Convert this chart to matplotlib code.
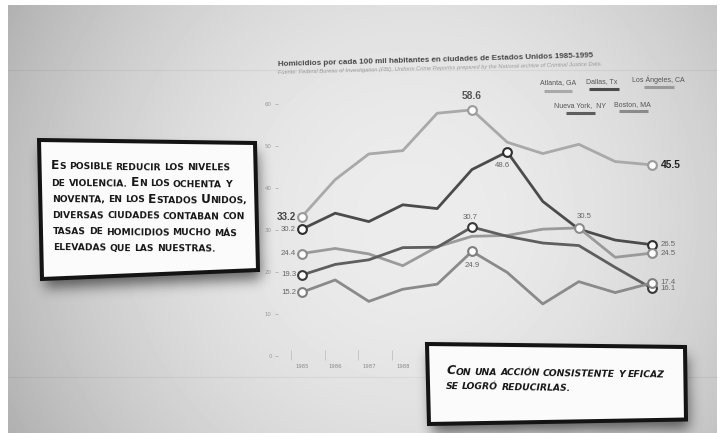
import numpy as np
import matplotlib
matplotlib.use('Agg')
import matplotlib.pyplot as plt
from matplotlib import font_manager as fm
from matplotlib.path import Path
from matplotlib.patches import Polygon

# homicidios por cada 100 mil habitantes
years = list(range(1985, 1996))
atlanta = [33.2, 42.0, 48.1, 48.9, 57.8, 58.6, 50.9, 48.2, 50.4, 46.3, 45.5]
dallas = [30.2, 34.0, 32.0, 36.0, 35.1, 44.4, 48.6, 36.8, 30.2, 27.6, 26.5]
los_angeles = [24.4, 25.6, 24.3, 21.5, 26.0, 28.5, 28.7, 30.2, 30.5, 23.5, 24.5]
nueva_york = [19.3, 21.8, 22.9, 25.8, 25.9, 30.7, 28.5, 26.9, 26.3, 21.1, 16.1]
boston = [15.2, 18.1, 13.0, 15.9, 17.1, 24.9, 19.9, 12.4, 17.7, 15.1, 17.4]

cities = ['Atlanta, GA', 'Dallas, Tx', 'Los Ángeles, CA', 'Nueva York,  NY', 'Boston, MA']
series = [atlanta, dallas, los_angeles, nueva_york, boston]
marked = [[0, 5, 10], [0, 6, 10], [0, 8, 10], [0, 5, 10], [0, 5, 10]]
yticks = [0, 10, 20, 30, 40, 50, 60]

title = 'Homicidios por cada 100 mil habitantes en ciudades de Estados Unidos 1985-1995'
source = ('Fuente: Federal Bureau of Investigation (FBI), Uniform Crime Reportss prepared '
          'by the National archive of Criminal Justice Data.')
box1_lines = ['Es posible reducir los niveles', 'de violencia. En los ochenta y',
              'noventa, en los Estados Unidos,', 'diversas ciudades contaban con',
              'tasas de homicidios mucho más', 'elevadas que las nuestras.']
box2_lines = ['Con una acción consistente y eficaz', 'se logró reducirlas.']

line_col = ['#a9a9a9', '#4b4b4b', '#9a9a9a', '#5e5e5e', '#8a8a8a']
edge_col = ['#9a9a9a', '#2e2e2e', '#8c8c8c', '#3a3a3a', '#7e7e7e']

names = {f.name for f in fm.fontManager.ttflist}
NARROW = 'Liberation Sans Narrow' if 'Liberation Sans Narrow' in names else 'Liberation Sans'

W, H = 723, 433
fig = plt.figure(figsize=(W / 100, H / 100), dpi=100, facecolor='white')

# photo background with vignette
ax_bg = fig.add_axes([0, 0, 1, 1])
gx, gy = np.meshgrid(np.arange(8, 717) + 0.5, np.arange(5, 433) + 0.5)
r2 = ((gx - 410) / 400) ** 2 + ((gy - 215) / 400) ** 2
bg = np.clip(0.925 - 0.18 * r2, 0, 1)
ax_bg.imshow(bg, cmap='gray', vmin=0, vmax=1, extent=(8, 717, 433, 5),
             interpolation='bilinear', aspect='auto')
for yy in (70, 377):
    ax_bg.plot([8, 717], [yy, yy], color='black', alpha=0.05, lw=0.8)
ax_bg.set_xlim(0, W)
ax_bg.set_ylim(H, 0)
ax_bg.axis('off')


# chart: slight perspective along x
def fwd(x):
    t = np.asarray(x, dtype=float) - 1985
    return 33 * t + 0.2 * t ** 2


def inv(u):
    u = np.asarray(u, dtype=float)
    return 1985 + (-33 + np.sqrt(np.clip(1089 + 0.8 * u, 0, None))) / 0.4


px_l, px_r, px_b, px_t = 278, 700, 380, 90
ax = fig.add_axes([px_l / W, (H - px_b) / H, (px_r - px_l) / W, (px_b - px_t) / H])
ax.set_facecolor('none')
ax.set_xscale('function', functions=(fwd, inv))
ax.set_xlim(float(inv(px_l - 302)), float(inv(px_r - 302)))
ax.set_ylim((356 - px_b) / 4.2, (356 - px_t) / 4.2)
for s in ax.spines.values():
    s.set_visible(False)
ax.spines['bottom'].set_position(('data', -1.0))

for vals, lc, ec, idx in zip(series, line_col, edge_col, marked):
    ax.plot(years, vals, color=lc, lw=2.0, solid_joinstyle='round', zorder=2)
    ax.plot([years[i] for i in idx], [vals[i] for i in idx], 'o', ms=6.3,
            mfc='white', mec=ec, mew=1.5, zorder=3)

P = 0.72  # points per pixel


def lab(vals, i, dx, dy, ha='center', size=5.6, color='#666666', weight='normal'):
    ax.annotate(f'{vals[i]:.1f}', (years[i], vals[i]), xytext=(dx * P, -dy * P),
                textcoords='offset points', ha=ha, va='center', fontsize=size,
                color=color, weight=weight, family=NARROW, zorder=4)


lab(atlanta, 0, -6, 0, 'right', 7.0, '#444444', 'bold')
lab(atlanta, 5, 0, -14, 'center', 7.4, '#555555', 'bold')
lab(atlanta, 10, 8.5, 0, 'left', 7.4, '#222222', 'bold')
lab(dallas, 0, -6, 0, 'right')
lab(dallas, 6, -4.5, 14, 'center')
lab(dallas, 10, 8.5, 0, 'left')
lab(los_angeles, 0, -6, 0, 'right')
lab(los_angeles, 8, 5, -11, 'center')
lab(los_angeles, 10, 8.5, 0, 'left')
lab(nueva_york, 0, -6, 0, 'right')
lab(nueva_york, 5, -1.5, -9.5, 'center')
lab(nueva_york, 10, 8.5, 0, 'left')
lab(boston, 0, -6, 0, 'right')
lab(boston, 5, 0, 14, 'center')
lab(boston, 10, 8.5, 0, 'left')

ax.set_yticks(yticks)
ax.set_xticks(years)
ax.set_xticks([y - 0.32 for y in years], minor=True)
ax.tick_params(axis='y', direction='out', length=2.5, width=0.6, color='#b0b0b0',
               labelsize=3.9, labelcolor='#9a9a9a', pad=2)
ax.tick_params(axis='x', which='major', length=0, labelsize=3.9,
               labelcolor='#8a8a8a', pad=3)
ax.tick_params(axis='x', which='minor', direction='in', length=7, width=0.6,
               color='#c0c0c0')
# year labels after 1988 sit behind the lower note
for yr, tl in zip(years, ax.get_xticklabels()):
    tl.set_visible(yr <= 1988)

# overlay: titles, legend, boxes
ov = fig.add_axes([0, 0, 1, 1])
ov.set_facecolor('none')
ov.set_xlim(0, W)
ov.set_ylim(H, 0)
ov.axis('off')

ov.text(278, 66, title, rotation=1.6, rotation_mode='anchor', ha='left', va='baseline',
        fontsize=5.75, weight='bold', color='#474747', family=NARROW)
ov.text(278, 74, source, rotation=1.5, rotation_mode='anchor', ha='left', va='baseline',
        fontsize=4.05, style='italic', color='#9a9a9a', family=NARROW)

leg_txt = [(558, 82.7), (602, 81.7), (658, 80), (580, 105.3), (632, 104.3)]
leg_line = [(544, 572, 90.7), (589, 619, 89.3), (644, 674, 87.3),
            (566, 595, 112.7), (619, 648, 111.3)]
for name, (tx, ty), (x0, x1, ly), lc in zip(cities, leg_txt, leg_line, line_col):
    ov.text(tx, ty, name, ha='center', va='center', fontsize=5.0, color='#555555',
            family=NARROW)
    ov.plot([x0, x1], [ly, ly], color=lc, lw=2.2, solid_capstyle='butt')

box1 = [(39, 140), (255, 143), (258, 270), (42, 279)]
box2 = [(427, 344), (685, 347), (686, 419.5), (429, 424)]

# soft drop shadows
sx, sy = np.meshgrid(np.arange(W) + 0.5, np.arange(H) + 0.5)
pts = np.column_stack([sx.ravel(), sy.ravel()])
mask = np.zeros(W * H)
for poly in (box1, box2):
    shifted = [(x + 3, y + 9) for x, y in poly]
    mask = np.maximum(mask, Path(shifted).contains_points(pts))
mask = mask.reshape(H, W)
k = np.exp(-0.5 * (np.arange(-18, 19) / 6.5) ** 2)
k /= k.sum()
mask = np.array([np.convolve(row, k, 'same') for row in mask])
mask = np.array([np.convolve(col, k, 'same') for col in mask.T]).T
shadow = np.zeros((H, W, 4))
shadow[..., 3] = 0.55 * mask
ov.imshow(shadow, extent=(0, W, H, 0), aspect='auto', interpolation='bilinear')
ov.set_xlim(0, W)
ov.set_ylim(H, 0)

for poly in (box1, box2):
    ov.add_patch(Polygon(poly, closed=True, fc='#fbfbfb', ec='#141414', lw=2.9,
                         joinstyle='miter'))

renderer = fig.canvas.get_renderer()


def text_width(s, size, **kw):
    t = ov.text(0, 0, s, fontsize=size, **kw)
    w = t.get_window_extent(renderer).width
    t.remove()
    return w


def small_caps(x, y, line, big, small, rot=0.0, **kw):
    ang = np.deg2rad(rot)
    space = text_width('N N', small, **kw) - text_width('NN', small, **kw)
    for n, word in enumerate(line.split(' ')):
        if n:
            x += space * np.cos(ang)
            y -= space * np.sin(ang)
        runs = []
        for ch in word:
            size = big if ch.isupper() else small
            if runs and runs[-1][1] == size:
                runs[-1][0] += ch.upper()
            else:
                runs.append([ch.upper(), size])
        for s, size in runs:
            ov.text(x, y, s, fontsize=size, ha='left', va='baseline', rotation=rot,
                    rotation_mode='anchor', **kw)
            w = text_width(s, size, **kw)
            x += w * np.cos(ang)
            y -= w * np.sin(ang)


for i, line in enumerate(box1_lines):
    small_caps(51 + 0.5 * i, 169.3 + 16.2 * i, line, 8.7, 6.6, rot=-0.5,
               weight='bold', color='#161616', family='DejaVu Sans')
for i, line in enumerate(box2_lines):
    small_caps(446.5 - 0.5 * i, 374.5 + 14.8 * i, line, 8.9, 6.7, rot=-0.7,
               weight='bold', style='italic', color='#161616', family='DejaVu Sans')

fig.savefig('out.png', dpi=100, facecolor='white')
